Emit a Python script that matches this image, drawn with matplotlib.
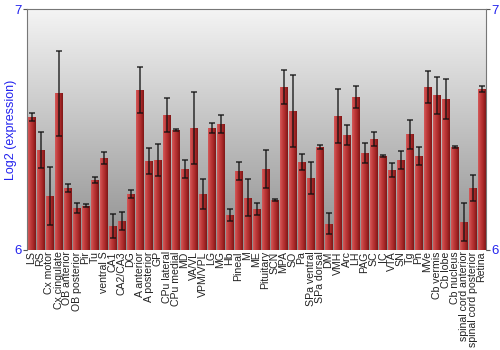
import numpy as np
import matplotlib
matplotlib.use('Agg')
import matplotlib.pyplot as plt
from matplotlib.colors import LinearSegmentedColormap

plt.rcParams['font.family'] = ['Liberation Sans', 'DejaVu Sans']

regions = ['LS', 'RS', 'Cx motor', 'Cx cingulate', 'OB anterior', 'OB posterior', 'Pir', 'Tu',
           'ventral S', 'CA1', 'CA2/CA3', 'DG', 'A anterior', 'A posterior', 'GP', 'CPu lateral',
           'CPu medial', 'MD', 'VA/VL', 'VPM/VPL', 'LG', 'MG', 'Hb', 'Pineal', 'M', 'ME',
           'Pituitary', 'SCN', 'MPA', 'SO', 'Pa', 'SPa ventral', 'SPa dorsal', 'DM', 'VMH', 'Arc',
           'LH', 'PAG', 'SC', 'IC', 'VTA', 'SN', 'Tg', 'Pn', 'MVe', 'Cb vermis', 'Cb lobe',
           'Cb nucleus', 'spinal cord anterior', 'spinal cord posterior', 'Retina']

expr = [6.552, 6.415, 6.224, 6.651, 6.257, 6.174, 6.183, 6.290, 6.380, 6.100, 6.120, 6.232,
        6.664, 6.369, 6.373, 6.560, 6.498, 6.336, 6.506, 6.232, 6.506, 6.523, 6.145, 6.328,
        6.216, 6.170, 6.336, 6.207, 6.676, 6.577, 6.365, 6.300, 6.427, 6.108, 6.556, 6.477,
        6.635, 6.402, 6.461, 6.390, 6.332, 6.373, 6.481, 6.390, 6.676, 6.643, 6.627, 6.427,
        6.116, 6.257, 6.668]

err = [0.017, 0.073, 0.120, 0.176, 0.015, 0.021, 0.006, 0.012, 0.025, 0.050, 0.036, 0.017,
       0.095, 0.054, 0.068, 0.070, 0.004, 0.037, 0.149, 0.062, 0.021, 0.039, 0.025, 0.039,
       0.077, 0.023, 0.077, 0.004, 0.070, 0.149, 0.033, 0.066, 0.008, 0.044, 0.114, 0.040,
       0.046, 0.040, 0.029, 0.004, 0.029, 0.039, 0.060, 0.039, 0.068, 0.077, 0.083, 0.004,
       0.077, 0.054, 0.014]

fig = plt.figure(figsize=(5, 3.5), dpi=100)
ax = fig.add_axes([0.054, 0.286, 0.918, 0.688])

x = np.arange(len(regions))
ax.set_xlim(-0.5, len(regions) - 0.5)
ax.set_ylim(6, 7)

# background gradient, light at top
bg = LinearSegmentedColormap.from_list('bg', ['#f4f4f4', '#8e8e8e'])
ax.imshow(np.linspace(0, 1, 256).reshape(-1, 1), cmap=bg, aspect='auto', origin='upper',
          extent=(-0.5, len(regions) - 0.5, 6, 7), zorder=0)

bars = ax.bar(x, np.array(expr) - 6, bottom=6, width=0.86, color='#b83232',
              edgecolor='none', zorder=2)

# horizontal shading on each bar
shade = LinearSegmentedColormap.from_list('bar', ['#d45a5a', '#c03c3c', '#a82828', '#7e1616'])
grad = np.linspace(0, 1, 64).reshape(1, -1)
for b in bars:
    im = ax.imshow(grad, cmap=shade, aspect='auto', zorder=2.5,
                   extent=(b.get_x(), b.get_x() + b.get_width(), 6, b.get_y() + b.get_height()))
    im.set_clip_path(b)

ax.errorbar(x, expr, yerr=err, fmt='none', ecolor='#111111', elinewidth=1.1,
            capsize=2.5, capthick=1.1, alpha=0.85, zorder=3)

ax.set_xticks(x)
ax.set_xticklabels(regions, rotation=90, fontsize=7.6, color='#222222')
ax.tick_params(axis='x', length=0, pad=1)

ax.set_yticks([6, 7])
ax.set_yticklabels(['6', '7'], fontsize=9.5, color='#2222ee')
ax.tick_params(axis='y', length=3, color='#555555', pad=1, right=True, labelright=True)
ax.set_ylabel('Log2 (expression)', fontsize=9, color='#2222ee', labelpad=-2)

for s in ['top', 'left', 'right']:
    ax.spines[s].set_color('#777777')
ax.spines['bottom'].set_visible(False)

fig.savefig('out.png', dpi=100)
